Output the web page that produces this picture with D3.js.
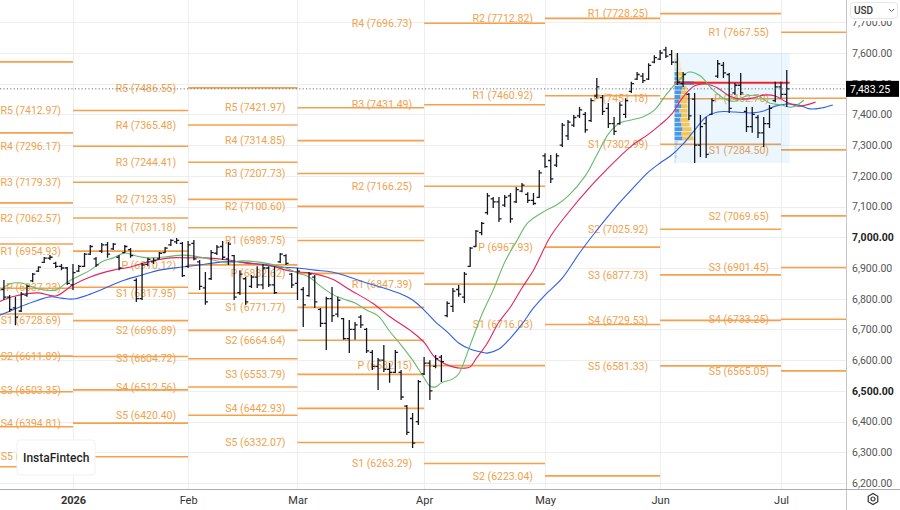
<!DOCTYPE html>
<html>
<head>
<meta charset="utf-8">
<script src="https://cdn.jsdelivr.net/npm/d3@7"></script>
<style>
  body { margin: 0; background: #fff; }
  svg { display: block; font-family: Roboto, "Noto Sans", sans-serif; }
</style>
</head>
<body>
<div id="chart-area"></div>
<script>
const chartSize = { width: 900, height: 510 };
const plotRight = 846, plotBottom = 489;

// trading-day index 0 = Jan 2 2026
const monthStarts = [0, 20, 39, 61, 82, 102, 123];
const monthLabels = ['2026', 'Feb', 'Mar', 'Apr', 'May', 'Jun', 'Jul'];
const priceTicks = [6200, 6300, 6400, 6500, 6600, 6700, 6800, 6900, 7000, 7100, 7200, 7300, 7400, 7500, 7600, 7700];
const boldTicks = [6500, 7000];
const lastPrice = 7483.25;

// daily bars [open, high, low, close], first one at index -12 (mid Dec)
const firstBar = -12;
const ohlc = [
  [6830, 6861, 6796, 6805], [6805, 6812, 6757, 6765], [6770, 6806, 6714, 6740], [6760, 6822, 6757, 6815],
  [6812, 6845, 6806, 6840], [6858, 6884, 6854, 6880], [6890, 6906, 6887, 6903], [6918, 6936, 6916, 6932],
  [6932, 6942, 6926, 6935], [6915, 6920, 6900, 6905], [6905, 6913, 6893, 6900], [6900, 6903, 6845, 6850],
  // Jan
  [6845, 6913, 6828, 6885], [6890, 6910, 6887, 6905], [6905, 6949, 6903, 6945], [6945, 6975, 6942, 6970],
  [6930, 6936, 6903, 6910], [6955, 6981, 6949, 6975], [6975, 6985, 6933, 6945], [6962, 6981, 6959, 6978],
  [6935, 6942, 6893, 6900], [6950, 6975, 6949, 6970], [6960, 6965, 6933, 6940], [6860, 6867, 6789, 6800],
  [6800, 6916, 6796, 6910], [6912, 6933, 6906, 6928], [6920, 6933, 6913, 6925], [6930, 6952, 6929, 6948],
  [6950, 6968, 6949, 6965], [6975, 6994, 6972, 6990], [6985, 6998, 6978, 6990], [6980, 6985, 6871, 6875],
  // Feb
  [6905, 6988, 6900, 6975], [6980, 6991, 6925, 6930], [6920, 6926, 6828, 6840], [6835, 6887, 6780, 6790],
  [6865, 6959, 6861, 6950], [6948, 6975, 6942, 6968], [6970, 6988, 6926, 6935], [6930, 6985, 6910, 6978],
  [6940, 6942, 6796, 6805], [6820, 6893, 6812, 6880], [6865, 6871, 6780, 6790], [6840, 6877, 6835, 6870],
  [6870, 6906, 6835, 6845], [6845, 6913, 6831, 6900], [6900, 6906, 6838, 6845], [6845, 6906, 6815, 6820],
  [6920, 6949, 6916, 6945], [6940, 6945, 6910, 6915], [6880, 6884, 6835, 6845],
  // Mar
  [6850, 6900, 6796, 6890], [6830, 6838, 6708, 6780], [6810, 6887, 6806, 6880], [6870, 6877, 6770, 6790],
  [6765, 6770, 6708, 6720], [6720, 6806, 6633, 6800], [6800, 6838, 6724, 6745], [6750, 6806, 6740, 6795],
  [6735, 6737, 6666, 6670], [6670, 6731, 6623, 6700], [6700, 6724, 6666, 6715], [6740, 6747, 6705, 6715],
  [6700, 6705, 6623, 6630], [6625, 6633, 6568, 6580], [6580, 6607, 6503, 6600], [6600, 6649, 6561, 6570],
  [6570, 6591, 6526, 6560], [6560, 6633, 6558, 6625], [6560, 6568, 6470, 6480], [6450, 6454, 6356, 6365],
  [6410, 6428, 6314, 6330], [6400, 6535, 6389, 6530],
  // Apr
  [6555, 6610, 6552, 6590], [6590, 6600, 6470, 6500], [6580, 6617, 6574, 6605], [6610, 6617, 6529, 6595],
  [6745, 6792, 6740, 6785], [6775, 6835, 6757, 6825], [6830, 6845, 6806, 6815], [6805, 6887, 6786, 6880],
  [6905, 6968, 6903, 6965], [6970, 7024, 6968, 7020], [7015, 7050, 7007, 7045], [7080, 7144, 7073, 7135],
  [7125, 7131, 7095, 7115], [7115, 7131, 7050, 7060], [7105, 7138, 7099, 7130], [7135, 7144, 7047, 7060],
  [7115, 7164, 7112, 7155], [7150, 7177, 7147, 7170], [7140, 7147, 7112, 7120], [7120, 7144, 7105, 7110],
  [7130, 7219, 7128, 7210],
  // May
  [7265, 7274, 7226, 7230], [7250, 7268, 7177, 7190], [7235, 7274, 7229, 7265], [7300, 7372, 7294, 7365],
  [7330, 7382, 7317, 7375], [7365, 7398, 7359, 7390], [7395, 7424, 7388, 7415], [7400, 7408, 7340, 7350],
  [7380, 7453, 7375, 7445], [7460, 7519, 7453, 7490], [7455, 7463, 7398, 7410], [7420, 7437, 7356, 7370],
  [7370, 7392, 7333, 7345], [7370, 7440, 7366, 7430], [7400, 7453, 7388, 7445], [7475, 7506, 7470, 7500],
  [7515, 7538, 7512, 7530], [7525, 7535, 7502, 7510], [7515, 7567, 7512, 7560], [7570, 7593, 7567, 7585],
  // Jun
  [7580, 7610, 7577, 7600], [7610, 7620, 7584, 7590], [7595, 7610, 7561, 7570], [7570, 7600, 7496, 7505],
  [7500, 7538, 7489, 7530], [7465, 7470, 7382, 7395], [7450, 7470, 7242, 7300], [7300, 7398, 7261, 7360],
  [7370, 7392, 7258, 7270], [7400, 7453, 7398, 7445], [7525, 7577, 7519, 7565], [7560, 7571, 7519, 7535],
  [7530, 7535, 7405, 7420], [7470, 7502, 7463, 7495], [7495, 7535, 7463, 7470], [7410, 7424, 7343, 7360],
  [7360, 7424, 7340, 7400], [7390, 7398, 7323, 7340], [7340, 7392, 7294, 7370], [7370, 7431, 7356, 7420],
  [7445, 7506, 7440, 7490],
  // Jul
  [7490, 7506, 7453, 7465], [7465, 7545, 7424, 7483.25]
];

// alligator lines: [bar index, price]
const jaw = [[-13, 6744], [-10, 6767], [-7, 6789], [-4, 6806], [-2, 6802], [0, 6799], [3, 6815], [6, 6838],
  [9, 6861], [12, 6877], [15, 6893], [19, 6903], [22, 6910], [26, 6920], [29, 6920], [33, 6910], [36, 6903],
  [39, 6900], [42, 6893], [45, 6887], [48, 6871], [51, 6851], [54, 6835], [57, 6815], [59, 6796], [61, 6763],
  [63, 6724], [65, 6692], [67, 6656], [69, 6636], [71, 6626], [72, 6623], [74, 6636], [76, 6672], [78, 6717],
  [80, 6770], [82, 6812], [85, 6867], [88, 6949], [91, 7023], [94, 7092], [97, 7154], [100, 7213], [102, 7242],
  [104, 7268], [106, 7304], [108, 7349], [110, 7392], [112, 7408], [115, 7408], [118, 7405], [120, 7411],
  [122, 7427], [124, 7434], [126, 7431], [128, 7418], [130, 7421], [132, 7431]];
const teeth = [[-13, 6789], [-10, 6809], [-6, 6819], [-3, 6809], [0, 6845], [3, 6871], [7, 6893], [10, 6903],
  [13, 6920], [17, 6933], [20, 6933], [23, 6933], [27, 6926], [30, 6916], [34, 6910], [37, 6893], [39, 6887],
  [41, 6884], [45, 6864], [48, 6830], [52, 6786], [55, 6742], [59, 6691], [61, 6658], [63, 6607], [66, 6578],
  [68, 6574], [69, 6578], [70, 6604], [72, 6656], [74, 6724], [76, 6773], [78, 6835], [80, 6893], [83, 7004],
  [86, 7079], [90, 7167], [93, 7226], [97, 7297], [100, 7336], [102, 7366], [104, 7401], [106, 7457],
  [108, 7493], [110, 7499], [112, 7486], [114, 7460], [116, 7450], [118, 7453], [120, 7463], [122, 7460],
  [124, 7440], [126, 7427], [129, 7440]];
const lips = [[-13, 6822], [-11, 6848], [-9, 6851], [-6, 6832], [-3, 6828], [-1, 6854], [1, 6874], [3, 6893],
  [5, 6920], [7, 6933], [9, 6949], [11, 6939], [13, 6933], [16, 6936], [19, 6942], [22, 6936], [25, 6923],
  [27, 6916], [29, 6923], [32, 6920], [35, 6910], [37, 6900], [39, 6884], [41, 6871], [43, 6841], [45, 6815],
  [47, 6799], [49, 6786], [51, 6763], [53, 6744], [55, 6694], [57, 6649], [59, 6600], [61, 6542], [62, 6516],
  [63, 6513], [64, 6526], [66, 6539], [67, 6555], [69, 6649], [71, 6747], [73, 6828], [75, 6919], [77, 6985],
  [79, 7047], [82, 7086], [84, 7105], [86, 7134], [89, 7200], [91, 7268], [93, 7336], [95, 7372], [97, 7382],
  [99, 7392], [101, 7414], [103, 7463], [105, 7506], [107, 7538], [109, 7525], [111, 7483], [113, 7453],
  [115, 7443], [117, 7460], [119, 7460], [121, 7437], [123, 7431], [125, 7424], [127, 7447]];

// monthly pivot points (label, level), each month starts at a bar index
const pivotStarts = [-22, 0, 20, 39, 61, 82, 102, 123, 140];
const pivotDec = [['R4', 7571], ['R3', 7340], ['R2', 7112], ['R1', 6978], ['P', 6834], ['S1', 6750],
  ['S2', 6613], ['S3', 6497], ['S4', 6383], ['S5', 6253]];
const pivotJan = [['R5', 7412.97], ['R4', 7296.17], ['R3', 7179.37], ['R2', 7062.57], ['R1', 6954.93],
  ['P', 6837.23], ['S1', 6728.69], ['S2', 6611.89], ['S3', 6503.35], ['S4', 6394.81], ['S5', 6285.37]];
const pivotFeb = [['R5', 7486.55], ['R4', 7365.48], ['R3', 7244.41], ['R2', 7123.35], ['R1', 7031.18],
  ['P', 6910.12], ['S1', 6817.95], ['S2', 6696.89], ['S3', 6604.72], ['S4', 6512.56], ['S5', 6420.40]];
const pivotMar = [['R5', 7421.97], ['R4', 7314.85], ['R3', 7207.73], ['R2', 7100.60], ['R1', 6989.75],
  ['P', 6882.62], ['S1', 6771.77], ['S2', 6664.64], ['S3', 6553.79], ['S4', 6442.93], ['S5', 6332.07]];
const pivotApr = [['R4', 7696.73], ['R3', 7431.49], ['R2', 7166.25], ['R1', 6847.39], ['P', 6582.15], ['S1', 6263.29]];
const pivotMay = [['R2', 7712.82], ['R1', 7460.92], ['P', 6967.93], ['S1', 6716.03], ['S2', 6223.04]];
const pivotJun = [['R1', 7728.25], ['P', 7451.18], ['S1', 7302.99], ['S2', 7025.92], ['S3', 6877.73],
  ['S4', 6729.53], ['S5', 6581.33]];
const pivotJul = [['R1', 7667.55], ['P', 7452.70], ['S1', 7284.50], ['S2', 7069.65], ['S3', 6901.45],
  ['S4', 6733.25], ['S5', 6565.05]];

// visible range volume profile
const vpFrom = 105, vpTo = 124;
const vpRowPrice = [7592, 7577, 7562, 7547, 7532, 7517, 7502, 7487, 7472, 7457, 7442, 7427, 7412, 7397,
  7382, 7367, 7352, 7337, 7322, 7307, 7292, 7277, 7262, 7247];
const vpUp = [0, 10, 10, 20, 30, 40, 200, 80, 70, 60, 50, 70, 50, 70, 60, 70, 80, 70, 80, 30, 20, 20, 20, 10];
const vpDown = [30, 40, 50, 50, 50, 60, 120, 40, 50, 70, 80, 60, 80, 60, 90, 80, 90, 100, 110, 10, 10, 0, 0, 0];
const vpValueArea = [4, 18];
const pocPrice = 7503;

const x = d3.scaleLinear().domain([0, 123]).range([73, 781]);
const y = d3.scaleLinear().domain([6200, 7600]).range([483, 53]);
const step = x(1) - x(0);
const orange = '#f6a04c';

const svg = d3.select('#chart-area').append('svg')
  .attr('width', chartSize.width)
  .attr('height', chartSize.height);

svg.append('defs').append('clipPath').attr('id', 'plot')
  .append('rect').attr('width', plotRight).attr('height', plotBottom);

const g = svg.append('g').attr('clip-path', 'url(#plot)');

// grid
g.append('g').selectAll('line').data(priceTicks).join('line')
  .attr('x1', 0).attr('x2', plotRight)
  .attr('y1', d => Math.round(y(d)) + 0.5).attr('y2', d => Math.round(y(d)) + 0.5)
  .attr('stroke', '#eeeeee');
g.append('g').selectAll('line').data(monthStarts).join('line')
  .attr('x1', d => Math.round(x(d)) + 0.5).attr('x2', d => Math.round(x(d)) + 0.5)
  .attr('y1', 0).attr('y2', plotBottom)
  .attr('stroke', '#eeeeee');

// pivot points
const pivotSets = [pivotDec, pivotJan, pivotFeb, pivotMar, pivotApr, pivotMay, pivotJun, pivotJul];
const pivotRows = pivotSets.flatMap((levels, k) => levels.map(([name, v]) => ({
  name, v, from: pivotStarts[k], to: pivotStarts[k + 1], labelled: k > 0
})));

g.append('g').selectAll('line').data(pivotRows).join('line')
  .attr('x1', d => x(d.from)).attr('x2', d => x(d.to))
  .attr('y1', d => y(d.v)).attr('y2', d => y(d.v))
  .attr('stroke', orange).attr('stroke-width', 1.6);

g.append('g').selectAll('text').data(pivotRows.filter(d => d.labelled)).join('text')
  .attr('x', d => x(d.from) - 12)
  .attr('y', d => y(d.v))
  .attr('dy', '0.35em')
  .attr('text-anchor', 'end')
  .attr('font-size', 10.5)
  .attr('fill', '#efa24e')
  .text(d => `${d.name} (${d.v.toFixed(2)})`);

// volume profile
const bars = ohlc.map(([o, h, l, c], k) => ({ i: firstBar + k, o, h, l, c }));
const vpBars = bars.filter(b => b.i >= vpFrom && b.i <= vpTo);
const vpLeft = x(vpFrom) - step / 2, vpRight = x(vpTo) + step / 2;
const vpG = g.append('g');
vpG.append('rect')
  .attr('x', vpLeft).attr('width', vpRight - vpLeft)
  .attr('y', y(d3.max(vpBars, b => b.h)))
  .attr('height', y(d3.min(vpBars, b => b.l)) - y(d3.max(vpBars, b => b.h)))
  .attr('fill', '#2196f3').attr('fill-opacity', 0.09);

const vpX = d3.scaleLinear().domain([0, 320]).range([0, 32]);
const rowH = y(7500) - y(7515);
const vpData = vpRowPrice.map((p, k) => ({ p, up: vpUp[k], down: vpDown[k], inVA: k >= vpValueArea[0] && k <= vpValueArea[1] }));
vpG.selectAll('rect.up').data(vpData).join('rect').attr('class', 'up')
  .attr('x', vpLeft).attr('width', d => vpX(d.up))
  .attr('y', d => y(d.p) - rowH / 2 + 0.4).attr('height', rowH - 0.8)
  .attr('fill', '#3a8ee6').attr('fill-opacity', d => d.inVA ? 0.9 : 0.3);
vpG.selectAll('rect.down').data(vpData).join('rect').attr('class', 'down')
  .attr('x', d => vpLeft + vpX(d.up)).attr('width', d => vpX(d.down))
  .attr('y', d => y(d.p) - rowH / 2 + 0.4).attr('height', rowH - 0.8)
  .attr('fill', '#f4c145').attr('fill-opacity', d => d.inVA ? 0.9 : 0.3);
vpG.append('line')
  .attr('x1', vpLeft).attr('x2', vpRight)
  .attr('y1', y(pocPrice)).attr('y2', y(pocPrice))
  .attr('stroke', '#e8262b').attr('stroke-width', 2);

// alligator
const line = d3.line().x(d => x(d[0])).y(d => y(d[1])).curve(d3.curveCatmullRom);
[[jaw, '#2f5fe8'], [teeth, '#e0245e'], [lips, '#66bb6a']].forEach(([pts, color]) => {
  g.append('path').attr('d', line(pts))
    .attr('fill', 'none').attr('stroke', color).attr('stroke-width', 1.1);
});

// OHLC bars
g.append('g').selectAll('path').data(bars).join('path')
  .attr('d', b => {
    const cx = x(b.i);
    return `M${cx},${y(b.h)}V${y(b.l)}M${cx - 2.6},${y(b.o)}H${cx}M${cx},${y(b.c)}H${cx + 2.6}`;
  })
  .attr('fill', 'none').attr('stroke', '#131722').attr('stroke-width', 1.3);

// last price line
g.append('line')
  .attr('x1', 0).attr('x2', plotRight)
  .attr('y1', y(lastPrice)).attr('y2', y(lastPrice))
  .attr('stroke', '#6b6f78').attr('stroke-dasharray', '1.2,2.2');

// logo
const logo = svg.append('g').attr('transform', 'translate(17,440)');
logo.append('rect').attr('width', 78).attr('height', 35).attr('rx', 3)
  .attr('fill', '#fff').attr('stroke', '#f1f1f1');
logo.append('text').attr('x', 6).attr('y', 22)
  .attr('font-size', 12).attr('font-weight', 500).attr('fill', '#1f1f1f')
  .text('InstaFintech');

// axes
svg.append('line').attr('x1', plotRight + 0.5).attr('x2', plotRight + 0.5)
  .attr('y1', 0).attr('y2', chartSize.height).attr('stroke', '#c5c7cc');
svg.append('line').attr('x1', 0).attr('x2', chartSize.width)
  .attr('y1', plotBottom + 0.5).attr('y2', plotBottom + 0.5).attr('stroke', '#a9acb3');

const yAxis = svg.append('g')
  .attr('transform', `translate(${plotRight + 3},0)`)
  .call(d3.axisRight(y).tickValues(priceTicks).tickSize(0).tickFormat(d3.format(',.2f')));
yAxis.select('.domain').remove();
yAxis.selectAll('text')
  .attr('font-family', 'Roboto, sans-serif')
  .attr('font-size', 10.5)
  .attr('fill', d => boldTicks.includes(d) ? '#222' : '#555')
  .attr('font-weight', d => boldTicks.includes(d) ? 'bold' : 'normal');

const priceTag = svg.append('g').attr('transform', `translate(${plotRight},${y(lastPrice)})`);
priceTag.append('rect').attr('y', -8).attr('width', 53).attr('height', 16).attr('fill', '#000');
priceTag.append('text').attr('x', 4).attr('dy', '0.35em')
  .attr('font-size', 10.5).attr('fill', '#fff').text(d3.format(',.2f')(lastPrice));

const usd = svg.append('g').attr('transform', `translate(${plotRight + 2},0)`);
usd.append('rect').attr('x', 0).attr('y', 0).attr('width', 52).attr('height', 21)
  .attr('fill', '#fff');
usd.append('rect').attr('x', 2.5).attr('y', 2.5).attr('width', 47).attr('height', 16).attr('rx', 3)
  .attr('fill', '#fff').attr('stroke', '#e6e6e6');
usd.append('text').attr('x', 6).attr('y', 14).attr('font-size', 10).attr('font-weight', 500)
  .attr('fill', '#333').text('USD');
usd.append('path').attr('d', 'M41,9 l2.5,2.5 l2.5,-2.5').attr('fill', 'none')
  .attr('stroke', '#666').attr('stroke-width', 1);

const xAxis = svg.append('g')
  .attr('transform', `translate(0,${plotBottom + 4})`)
  .call(d3.axisBottom(x).tickValues(monthStarts).tickSize(0).tickFormat((d, i) => monthLabels[i]));
xAxis.select('.domain').remove();
xAxis.selectAll('text')
  .attr('font-family', 'Roboto, sans-serif')
  .attr('font-size', 11)
  .attr('fill', '#333')
  .attr('font-weight', (d, i) => i === 0 ? 'bold' : 'normal');

// settings gear
const gear = svg.append('g').attr('transform', 'translate(873,499)');
gear.append('path')
  .attr('d', d3.range(6).map(k => {
    const a = Math.PI / 3 * k + Math.PI / 6;
    return `${k ? 'L' : 'M'}${5.5 * Math.cos(a)},${5.5 * Math.sin(a)}`;
  }).join('') + 'Z')
  .attr('fill', 'none').attr('stroke', '#333').attr('stroke-width', 1.2);
gear.append('circle').attr('r', 2).attr('fill', 'none').attr('stroke', '#333').attr('stroke-width', 1.2);
</script>
</body>
</html>
